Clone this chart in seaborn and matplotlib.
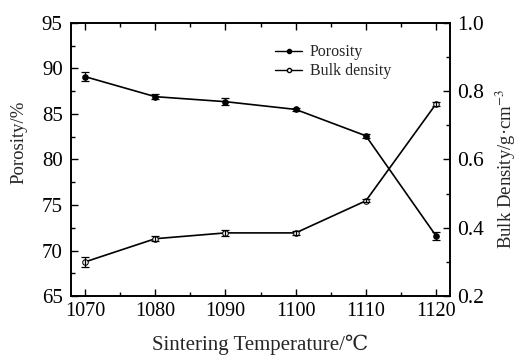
import matplotlib
matplotlib.use("Agg")
import matplotlib.pyplot as plt
import seaborn as sns
import pandas as pd
from matplotlib.ticker import MultipleLocator, FormatStrFormatter
from matplotlib.lines import Line2D

temperature = [1070, 1080, 1090, 1100, 1110, 1120]
porosity = [89.1, 86.9, 86.35, 85.5, 82.6, 71.6]
porosity_err = [0.5, 0.3, 0.35, 0.15, 0.2, 0.4]
bulk_density = [0.300, 0.368, 0.385, 0.385, 0.479, 0.763]
bulk_density_err = [0.015, 0.007, 0.008, 0.006, 0.004, 0.006]

sns.set_style("ticks")
plt.rcParams['font.family'] = ['Liberation Serif', 'DejaVu Serif']
plt.rcParams['mathtext.fontset'] = 'stix'

df = pd.DataFrame({"T": temperature, "P": porosity, "B": bulk_density})

fig = plt.figure(figsize=(5.18, 3.58), dpi=100)
ax = fig.add_axes([0.137, 0.173, 0.732, 0.763])
ax2 = ax.twinx()

sns.lineplot(data=df, x="T", y="P", ax=ax, color="black", lw=1.2, marker="o",
             markersize=4, markerfacecolor="black", markeredgecolor="black")
ax.errorbar(temperature, porosity, yerr=porosity_err, fmt="none", ecolor="black",
            elinewidth=0.9, capsize=3, capthick=0.9)
sns.lineplot(data=df, x="T", y="B", ax=ax2, color="black", lw=1.2, marker="o",
             markersize=4, markerfacecolor="white", markeredgecolor="black")
ax2.errorbar(temperature, bulk_density, yerr=bulk_density_err, fmt="none", ecolor="black",
             elinewidth=0.9, capsize=3, capthick=0.9)

ax.set_xlim(1068, 1122)
ax.set_ylim(65, 95)
ax2.set_ylim(0.2, 1.0)
ax.xaxis.set_major_locator(MultipleLocator(10))
ax.xaxis.set_minor_locator(MultipleLocator(5))
ax.yaxis.set_major_locator(MultipleLocator(5))
ax.yaxis.set_minor_locator(MultipleLocator(2.5))
ax2.yaxis.set_major_locator(MultipleLocator(0.2))
ax2.yaxis.set_minor_locator(MultipleLocator(0.1))
ax2.yaxis.set_major_formatter(FormatStrFormatter('%.1f'))

for a in (ax, ax2):
    a.tick_params(which="both", direction="in", width=1.0, colors="black")
    a.tick_params(which="major", length=5)
    a.tick_params(which="minor", length=3)
    for s in a.spines.values():
        s.set_linewidth(1.2)
        s.set_color("black")
ax.tick_params(axis="x", which="both", top=True, labeltop=False, labelsize=14.5, pad=4)
ax.tick_params(axis="y", labelsize=15, pad=6)
ax2.tick_params(axis="y", labelsize=15.5, pad=5)

ax.set_xlabel("Sintering Temperature/\u2103", fontsize=15)
ax.xaxis.set_label_coords(0.5, -0.14)
ax.set_ylabel("Porosity/%", fontsize=13.5)
ax.yaxis.set_label_coords(-0.116, 0.564)
ax2.set_ylabel("Bulk Density/g\u00b7cm$^{-3}$", fontsize=13.5)
ax2.yaxis.set_label_coords(1.115, 0.465)

handles = [
    Line2D([], [], color="black", lw=1.0, marker="o", markersize=3,
           markerfacecolor="black", markeredgecolor="black"),
    Line2D([], [], color="black", lw=1.0, marker="o", markersize=3,
           markerfacecolor="white", markeredgecolor="black"),
]
ax.legend(handles, ["Porosity", "Bulk density"], loc="upper left",
          bbox_to_anchor=(0.5, 0.975), frameon=False, fontsize=11.5,
          handlelength=1.7, handletextpad=0.5, labelspacing=0.2)

fig.savefig("out.png", dpi=100)
